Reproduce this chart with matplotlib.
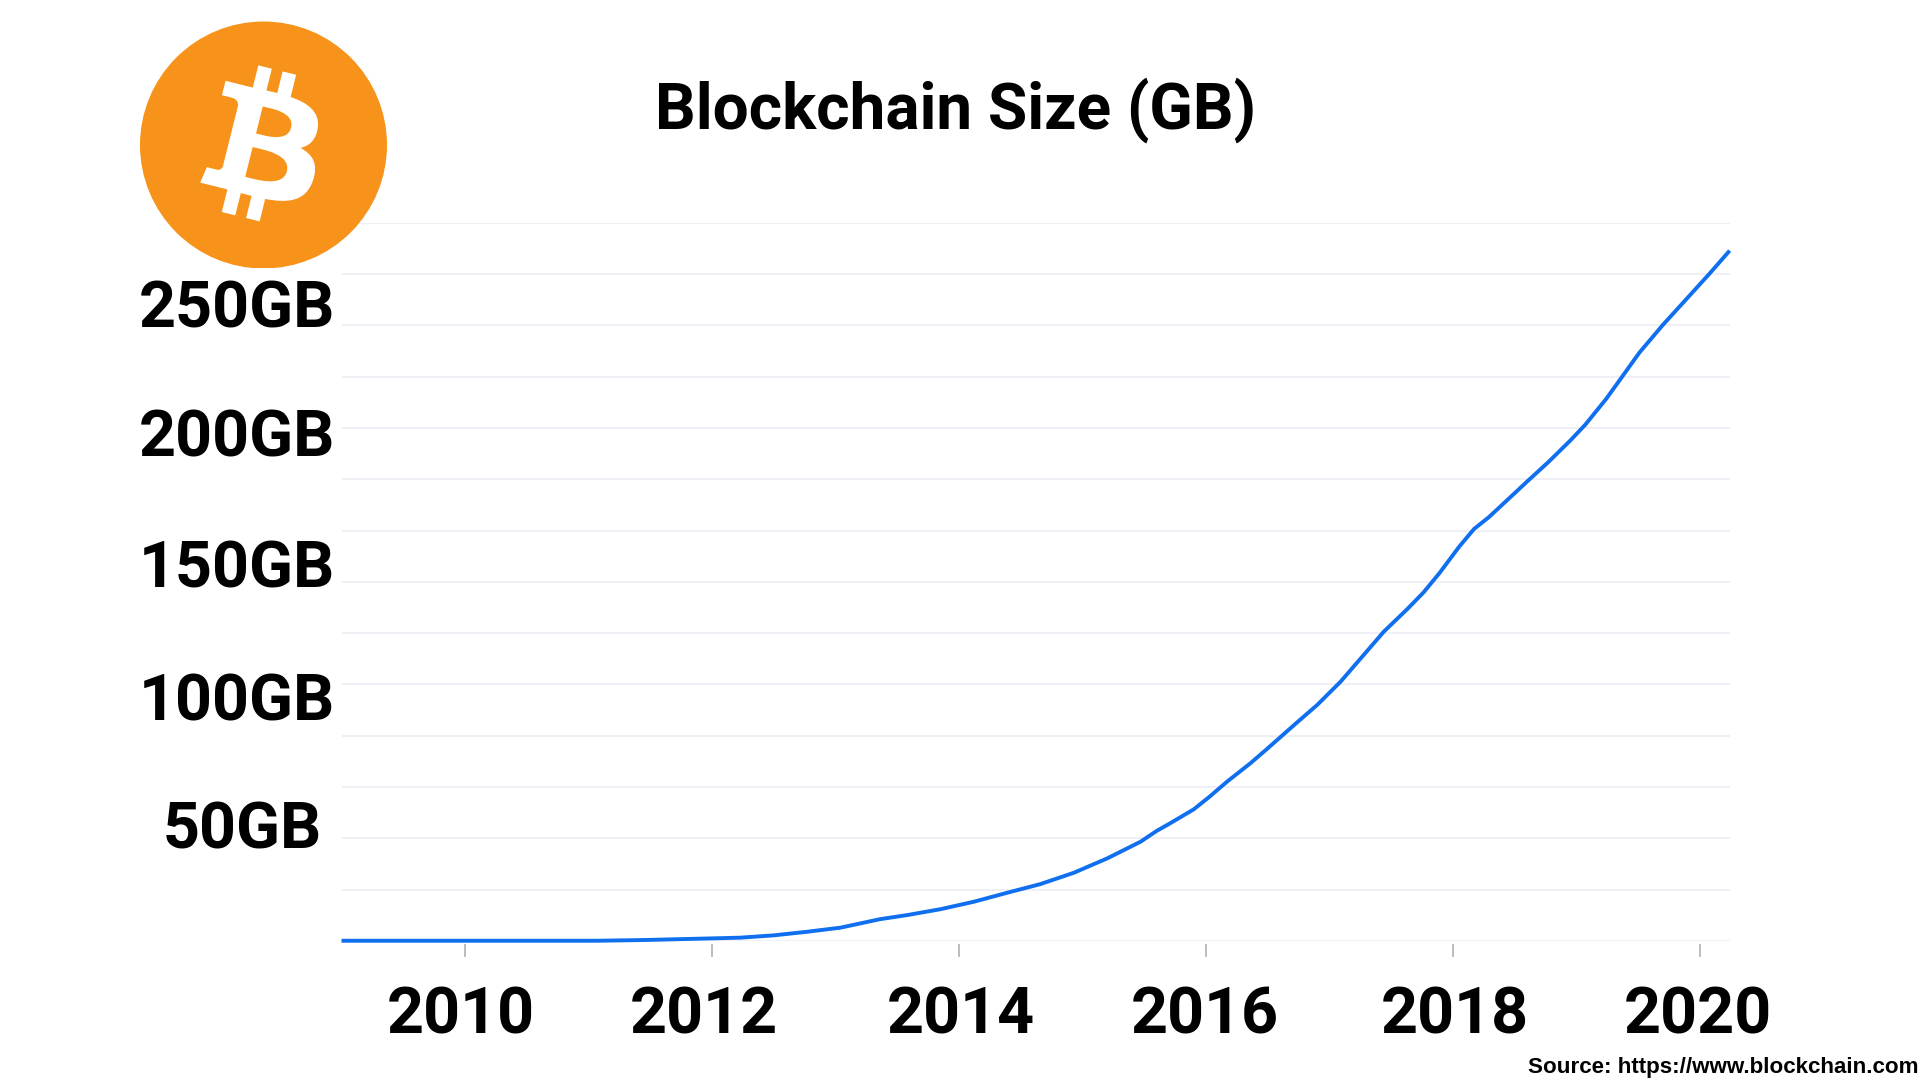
import re
import matplotlib
matplotlib.use("Agg")
import matplotlib.pyplot as plt
from matplotlib.path import Path
from matplotlib.patches import PathPatch, Circle, Rectangle
from matplotlib.transforms import Affine2D

# ---- data ----
years = [2009.00, 2011.07, 2011.47, 2011.98, 2012.23, 2012.50, 2012.77, 2013.04, 2013.36, 2013.58,
         2013.85, 2014.12, 2014.39, 2014.66, 2014.93, 2015.20, 2015.47, 2015.60, 2015.71, 2015.90,
         2016.03, 2016.17, 2016.36, 2016.49, 2016.73, 2016.90, 2017.09, 2017.30, 2017.44, 2017.63,
         2017.76, 2017.89, 2018.05, 2018.17, 2018.29, 2018.50, 2018.60, 2018.77, 2018.95, 2019.07,
         2019.24, 2019.37, 2019.51, 2019.70, 2019.88, 2020.08, 2020.24]
size_gb = [0.1, 0.1, 0.4, 1.0, 1.3, 2.2, 3.6, 5.2, 8.5, 10.1,
           12.4, 15.3, 18.8, 22.2, 26.6, 32.2, 38.7, 42.9, 45.9, 51.3,
           56.3, 62.1, 69.3, 74.7, 84.9, 92.0, 101.1, 112.8, 120.6, 129.4,
           135.8, 143.4, 153.7, 160.6, 165.2, 174.6, 179.1, 186.6, 195.1, 201.2,
           211.3, 220.0, 229.4, 240.2, 249.7, 260.3, 269.1]
grid_values = list(range(0, 281, 20))
x_ticks = [2010, 2012, 2014, 2016, 2018, 2020]
x_labels = ["2010", "2012", "2014", "2016", "2018", "2020"]
y_ticks = [50, 100, 150, 200, 250]
y_labels = ["50GB", "100GB", "150GB", "200GB", "250GB"]
title = "Blockchain Size (GB)"
source = "Source: https://www.blockchain.com"

# ---- styling ----
W, H = 1920, 1080
LEFT, RIGHT, TOP, BOTTOM = 342, 1730, 222.7, 941
x_label_dx = [-4, -8, 2, -1, 2, -2]
y_label_dx = [-10, 3, 3, 3, 3]
y_label_dy = [-36, -36, -31, -29, -28]

BTC_B = ("M46.11 27.441c.636-4.258-2.606-6.547-7.039-8.074l1.438-5.768-3.512-.875-1.4 5.616"
         "c-.922-.23-1.87-.447-2.812-.662l1.41-5.653-3.509-.875-1.439 5.766c-.764-.174-1.514-.346-2.242-.527"
         "l.004-.018-4.842-1.209-.934 3.75s2.605.597 2.55.634c1.422.355 1.68 1.296 1.636 2.042l-1.638 6.571"
         "c.098.025.225.061.365.117l-.37-.092-2.297 9.205c-.174.432-.615 1.08-1.609.834.035.051-2.552-.637-2.552-.637"
         "l-1.743 4.02 4.57 1.139c.85.213 1.683.436 2.502.646l-1.453 5.835 3.507.875 1.44-5.772c.957.26 1.887.5 2.797.726"
         "L27.504 50.8l3.511.875 1.453-5.823c5.987 1.133 10.49.676 12.383-4.738 1.527-4.36-.075-6.875-3.225-8.516"
         " 2.294-.531 4.022-2.04 4.483-5.157zM38.087 38.69c-1.086 4.36-8.426 2.004-10.807 1.412l1.928-7.729"
         "c2.38.594 10.011 1.77 8.88 6.317zm1.085-11.312c-.99 3.966-7.1 1.951-9.083 1.457l1.748-7.01"
         "c1.983.494 8.367 1.416 7.335 5.553z")


def svg_path(d):
    toks = re.findall(r"[A-Za-z]|-?\d*\.?\d+", d)
    i, cmd = 0, None
    x = y = sx = sy = 0.0
    lc = None
    V, C = [], []
    def num():
        nonlocal i
        v = float(toks[i]); i += 1
        return v
    while i < len(toks):
        if re.match(r"[A-Za-z]", toks[i]):
            cmd = toks[i]; i += 1
            if cmd in "zZ":
                V.append((sx, sy)); C.append(Path.CLOSEPOLY)
                x, y = sx, sy; lc = None
                continue
        if cmd in "mM":
            a, b = num(), num()
            if cmd == "m":
                a += x; b += y
            x, y = a, b; sx, sy = a, b
            V.append((x, y)); C.append(Path.MOVETO)
            cmd = "l" if cmd == "m" else "L"; lc = None
        elif cmd in "lL":
            a, b = num(), num()
            if cmd == "l":
                a += x; b += y
            x, y = a, b
            V.append((x, y)); C.append(Path.LINETO); lc = None
        elif cmd in "cCsS":
            if cmd in "cC":
                p = [num() for _ in range(6)]
                if cmd == "c":
                    p = [p[0]+x, p[1]+y, p[2]+x, p[3]+y, p[4]+x, p[5]+y]
                c1 = (p[0], p[1]); c2 = (p[2], p[3]); e = (p[4], p[5])
            else:
                p = [num() for _ in range(4)]
                if cmd == "s":
                    p = [p[0]+x, p[1]+y, p[2]+x, p[3]+y]
                c1 = (2*x-lc[0], 2*y-lc[1]) if lc else (x, y)
                c2 = (p[0], p[1]); e = (p[2], p[3])
            V += [c1, c2, e]; C += [Path.CURVE4]*3
            lc = c2; x, y = e
    return Path(V, C)


plt.rcParams["font.family"] = ["Roboto", "DejaVu Sans"]
fig = plt.figure(figsize=(W/100, H/100), dpi=100, facecolor="white")
ax = fig.add_axes([LEFT/W, 1-BOTTOM/H, (RIGHT-LEFT)/W, (BOTTOM-TOP)/H])

ax.set_xlim(2010 + (LEFT-465)/123.5, 2010 + (RIGHT-465)/123.5)
ax.set_ylim(0, 280)
for s in ax.spines.values():
    s.set_visible(False)

ax.set_yticks(grid_values)
ax.set_yticklabels([])
ax.yaxis.grid(True, color="#ebebf3", lw=1.1)
ax.tick_params(axis="y", which="major", length=0)
ax.set_axisbelow(True)

ax.yaxis.remove_overlapping_locs = False
ax.set_yticks(y_ticks, labels=y_labels, minor=True)
ax.tick_params(axis="y", which="minor", length=0, pad=0, labelsize=46.5)
for tick, dx, dy in zip(ax.yaxis.get_minor_ticks(), y_label_dx, y_label_dy):
    lab = tick.label1
    lab.set_fontweight("bold"); lab.set_color("black")
    lab.set_verticalalignment("baseline")
    lab.set_transform(lab.get_transform() + Affine2D().translate(dx-10, dy))

ax.set_xticks(x_ticks, labels=x_labels)
ax.tick_params(axis="x", which="major", length=9.4, width=1.3, color="#b8b8b8",
               pad=0, labelsize=46.5)
for tick, dx in zip(ax.xaxis.get_major_ticks(), x_label_dx):
    lab = tick.label1
    lab.set_fontweight("bold"); lab.set_color("black")
    lab.set_verticalalignment("baseline")
    lab.set_transform(lab.get_transform() + Affine2D().translate(dx, -(1032-941)+12))
    tick.tick1line.set_transform(tick.tick1line.get_transform() + Affine2D().translate(0, -3))

ax.plot(years, size_gb, color="#0f6fef", lw=2.8, solid_capstyle="butt", clip_on=False, zorder=3)

fig.text(955.5/W, 1-129/H, title, fontsize=46, fontweight="bold", color="black",
         ha="center", va="baseline")
fig.text(1919/W, 1-1072.7/H, source, fontsize=16.1, fontweight="bold", color="black",
         family="Liberation Sans", ha="right", va="baseline")

# logo
ov = fig.add_axes([0, 0, 1, 1], zorder=5)
ov.set_xlim(0, W); ov.set_ylim(H, 0); ov.axis("off"); ov.patch.set_alpha(0)
coin = Circle((263.5, 145), 123.5, facecolor="#F7931A", edgecolor="none")
ov.add_patch(coin)
coin.set_clip_path(Rectangle((100, 0), 320, 267.5, transform=ov.transData))
scale = 3.85
tr = Affine2D().translate(-31.3, -32.2).scale(scale).translate(260.7, 146.4) + ov.transData
ov.add_patch(PathPatch(svg_path(BTC_B), facecolor="white", edgecolor="none", transform=tr))

fig.savefig("out.png", dpi=100, facecolor="white")
